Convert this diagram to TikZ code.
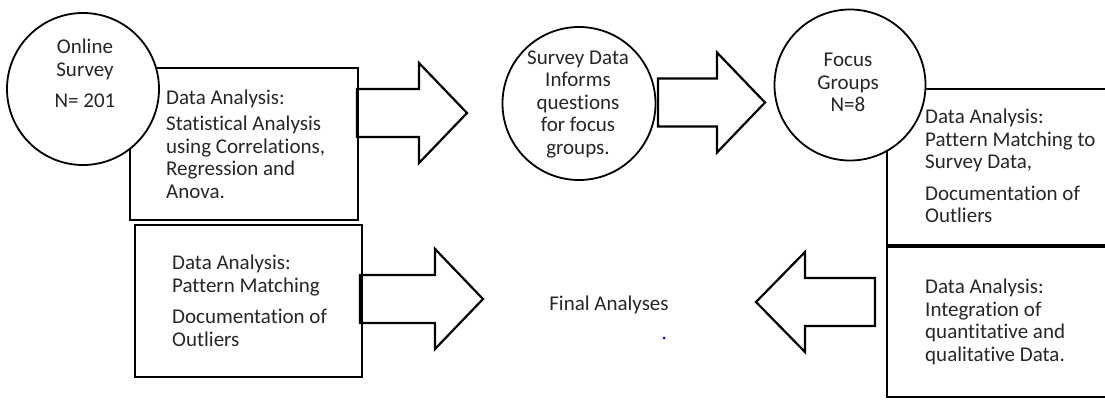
\documentclass[tikz,border=0pt]{standalone}
\usepackage{fontspec}
\setmainfont{Carlito}[RawFeature={-liga;-clig;-calt}]
\usetikzlibrary{positioning}

\begin{document}
\begin{tikzpicture}[x=1pt, y=-1pt,
  every node/.style={font=\fontsize{21}{22.5}\selectfont, text=black!85},
  stage/.style={draw, circle, fill=white, line width=1.8, minimum size=152, inner sep=0},
  panel/.style={draw, rectangle, line width=2.2, inner sep=0},
  note/.style={align=left, inner sep=0, anchor=west},
  ]

\useasboundingbox (0,0) rectangle (1105,400);
\clip (0,0) rectangle (1105,400);

% analysis boxes (behind the circles)
\node[panel, minimum width=228, minimum height=152] (stats) at (244,144) {};
\node[panel, minimum width=227, minimum height=152] (pattern) at (248.5,301) {};
\node[panel, minimum width=240, minimum height=156] (match) at (1007,167) {};
\node[panel, minimum width=240, minimum height=152] (integ) at (1007,321) {};
\draw[line width=4] (match.south west) -- (match.south east);

% block arrows: tail / head base / tip / middle
\foreach \xa/\xb/\xc/\ym in {357/419/467/113, 658/717/765/102.5, 360/435/483/299, 875/805/756/302}
{
  \draw[line width=2.2, line join=miter]
    (\xa,\ym-24) -- (\xb,\ym-24) -- (\xb,\ym-50) -- (\xc,\ym)
    -- (\xb,\ym+50) -- (\xb,\ym+24) -- (\xa,\ym+24) -- cycle;
}

% circles
\node[stage] (online) at (83,89) {};
\node[stage, minimum size=153] (inform) at (579,103.5) {};
\node[stage, minimum size=151] (focus) at (850,85) {};

\node[align=center, inner sep=0] (online-txt) at (85,73.5) {Online\\Survey\\[9pt]N= 201};
\node[align=center, inner sep=0] (inform-txt) at (578,104) {Survey Data\\Informs\\questions\\for focus\\groups.};
\node[align=center, inner sep=0] (focus-txt) at (848,82.5) {Focus\\Groups\\N=8};

% texts of the boxes
\node[note] (stats-txt) at (166,144) {Data Analysis:\\[4pt]Statistical Analysis\\using Correlations,\\Regression and\\Anova.};
\node[note] (pattern-txt) at (172,301) {Data Analysis:\\Pattern Matching\\[9pt]Documentation of\\Outliers};
\node[note] (match-txt) at (925,166) {Data Analysis:\\Pattern Matching to\\Survey Data,\\[9pt]Documentation of\\Outliers};
\node[note] (integ-txt) at (925,322) {Data Analysis:\\Integration of\\quantitative and\\qualitative Data.};

\node[inner sep=0] (final) at (609,305) {Final Analyses};
\node[circle, fill=blue, inner sep=0, minimum size=3] (dot) at (664,338) {};

\end{tikzpicture}
\end{document}
